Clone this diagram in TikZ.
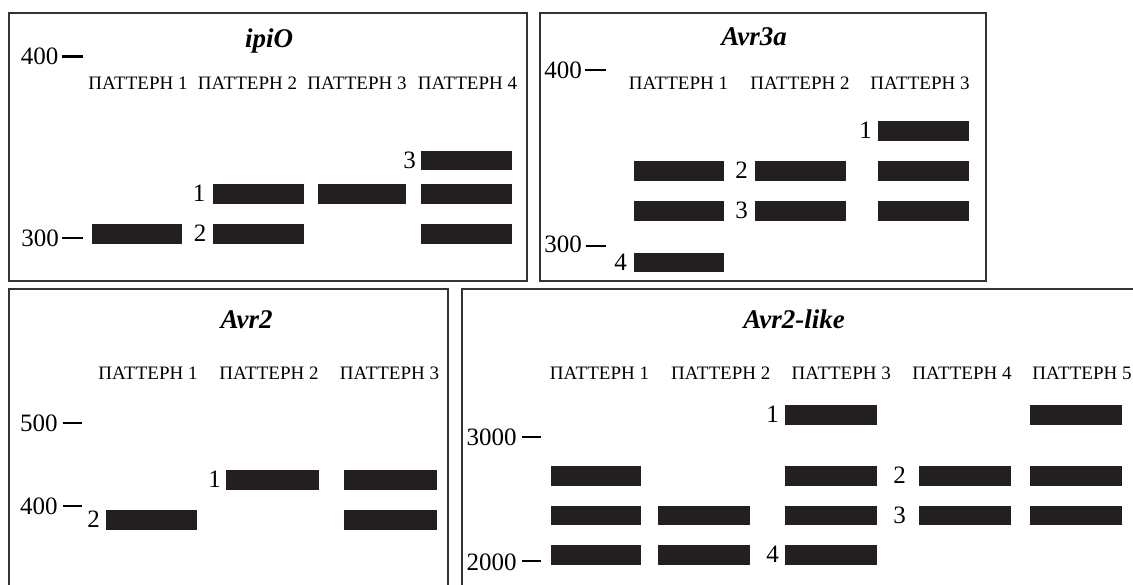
\documentclass[tikz,border=0pt]{standalone}
\usepackage{fontspec}
\setmainfont{Liberation Serif}
\definecolor{bandc}{HTML}{231F20}
\definecolor{framec}{HTML}{333333}
\tikzset{
  panel/.style={draw=framec, line width=2pt},
  band/.style={fill=bandc, draw=none, minimum width=91pt, minimum height=19.5pt, inner sep=0pt, outer sep=0pt, anchor=north west},
  pat/.style={font=\fontsize{19}{19}\selectfont, anchor=base, inner sep=0pt},
  num/.style={font=\fontsize{25}{25}\selectfont, anchor=base east, inner sep=0pt},
  ttl/.style={font=\fontsize{27}{27}\selectfont\bfseries\itshape, anchor=base, inner sep=0pt},
  tickmark/.style={draw=black, line width=2.4pt},
}
\newcommand{\blab}[3][6]{\node[num] (l#2) at ([xshift=-#1pt,yshift=2pt]#2.south west) {#3};}
\begin{document}
\begin{tikzpicture}[x=1pt,y=-1pt]
\useasboundingbox (0,0) rectangle (1133,584);
\fill[white] (0,0) rectangle (1133,584);
% ---------- frames
\draw[panel] (9,13) rectangle (527,281);
\draw[panel] (539.5,13) rectangle (986,281);
\draw[panel] (9,289) rectangle (448,610);
\draw[panel] (461.5,289) rectangle (1160,610);

% ---------- ipiO
\node[ttl] (t1) at (269,47) {ipiO};
\node[pat] (p11) at (138,89) {ПАТТЕРН 1};
\node[pat] (p12) at (247.5,89) {ПАТТЕРН 2};
\node[pat] (p13) at (357,89) {ПАТТЕРН 3};
\node[pat] (p14) at (467.5,89) {ПАТТЕРН 4};
\node[num] (a1u) at (58.5,64) {400};
\node[num] (a1d) at (59,246.7) {300};
\draw[tickmark] ([xshift=3.5pt,yshift=7.5pt]a1u.base east) -- ++(20.5,0);
\draw[tickmark] ([xshift=3pt,yshift=8.5pt]a1d.base east) -- ++(20.5,0);
\node[band, minimum width=90pt] (b1a) at (92,224) {};
\node[band] (b1b) at (212.5,184) {};
\node[band] (b1c) at (212.5,224) {};
\node[band, minimum width=88pt] (b1d) at (318,184) {};
\node[band] (b1e) at (421,150.5) {};
\node[band] (b1f) at (421,184) {};
\node[band] (b1g) at (421,224) {};
\blab[7]{b1b}{1}
\blab[6]{b1c}{2}
\blab[5]{b1e}{3}

% ---------- Avr3a
\node[ttl] (t2) at (754,45.7) {Avr3a};
\node[pat] (p21) at (678.5,89) {ПАТТЕРН 1};
\node[pat] (p22) at (800,89) {ПАТТЕРН 2};
\node[pat] (p23) at (920,89) {ПАТТЕРН 3};
\node[num] (a2u) at (582,78) {400};
\node[num] (a2d) at (582,252.3) {300};
\draw[tickmark] ([xshift=3pt,yshift=8pt]a2u.base east) -- ++(20.5,0);
\draw[tickmark] ([xshift=3.5pt,yshift=6.5pt]a2d.base east) -- ++(20.5,0);
\node[band, minimum width=90pt] (b2a) at (634,161) {};
\node[band, minimum width=90pt] (b2b) at (634,201) {};
\node[band, minimum width=90pt] (b2c) at (634,252.5) {};
\node[band] (b2d) at (755,161) {};
\node[band] (b2e) at (755,201) {};
\node[band] (b2f) at (878,121) {};
\node[band] (b2g) at (878,161) {};
\node[band] (b2h) at (878,201) {};
\blab[6]{b2f}{1}
\blab[7]{b2d}{2}
\blab[7]{b2e}{3}
\blab[7]{b2c}{4}

% ---------- Avr2
\node[ttl] (t3) at (246.7,328.3) {Avr2};
\node[pat] (p31) at (148,379.3) {ПАТТЕРН 1};
\node[pat] (p32) at (269,379.3) {ПАТТЕРН 2};
\node[pat] (p33) at (389.5,379.3) {ПАТТЕРН 3};
\node[num] (a3u) at (57.7,431.7) {500};
\node[num] (a3d) at (57.7,514.3) {400};
\draw[tickmark] ([xshift=5pt,yshift=9pt]a3u.base east) -- ++(19,0);
\draw[tickmark] ([xshift=5pt,yshift=8.5pt]a3d.base east) -- ++(19,0);
\node[band] (b3a) at (106,510) {};
\node[band, minimum width=93pt] (b3b) at (226,470) {};
\node[band, minimum width=92.5pt] (b3c) at (344,470) {};
\node[band, minimum width=92.5pt] (b3d) at (344,510) {};
\blab[5]{b3b}{1}
\blab[6]{b3a}{2}

% ---------- Avr2-like
\node[ttl] (t4) at (794,328.3) {Avr2-like};
\node[pat] (p41) at (599.5,379.3) {ПАТТЕРН 1};
\node[pat] (p42) at (720.7,379.3) {ПАТТЕРН 2};
\node[pat] (p43) at (841.3,379.3) {ПАТТЕРН 3};
\node[pat] (p44) at (962,379.3) {ПАТТЕРН 4};
\node[pat] (p45) at (1082,379.3) {ПАТТЕРН 5};
\node[num] (a4u) at (516.8,445) {3000};
\node[num] (a4d) at (516.8,570) {2000};
\draw[tickmark] ([xshift=5pt,yshift=8.3pt]a4u.base east) -- ++(19.5,0);
\draw[tickmark] ([xshift=5pt,yshift=9pt]a4d.base east) -- ++(19.5,0);
\node[band, minimum width=90pt] (b4a) at (551,466) {};
\node[band, minimum width=90pt] (b4b) at (551,505.5) {};
\node[band, minimum width=90pt] (b4c) at (551,545) {};
\node[band, minimum width=92pt] (b4d) at (658,505.5) {};
\node[band, minimum width=92pt] (b4e) at (658,545) {};
\node[band, minimum width=92pt] (b4f) at (785,405) {};
\node[band, minimum width=92pt] (b4g) at (785,466) {};
\node[band, minimum width=92pt] (b4h) at (785,505.5) {};
\node[band, minimum width=92pt] (b4i) at (785,545) {};
\node[band, minimum width=92pt] (b4j) at (919,466) {};
\node[band, minimum width=92pt] (b4k) at (919,505.5) {};
\node[band, minimum width=92pt] (b4l) at (1030,405) {};
\node[band, minimum width=92pt] (b4m) at (1030,466) {};
\node[band, minimum width=92pt] (b4n) at (1030,505.5) {};
\blab[6]{b4f}{1}
\blab[13]{b4j}{2}
\blab[13]{b4k}{3}
\blab[6]{b4i}{4}
\end{tikzpicture}
\end{document}
